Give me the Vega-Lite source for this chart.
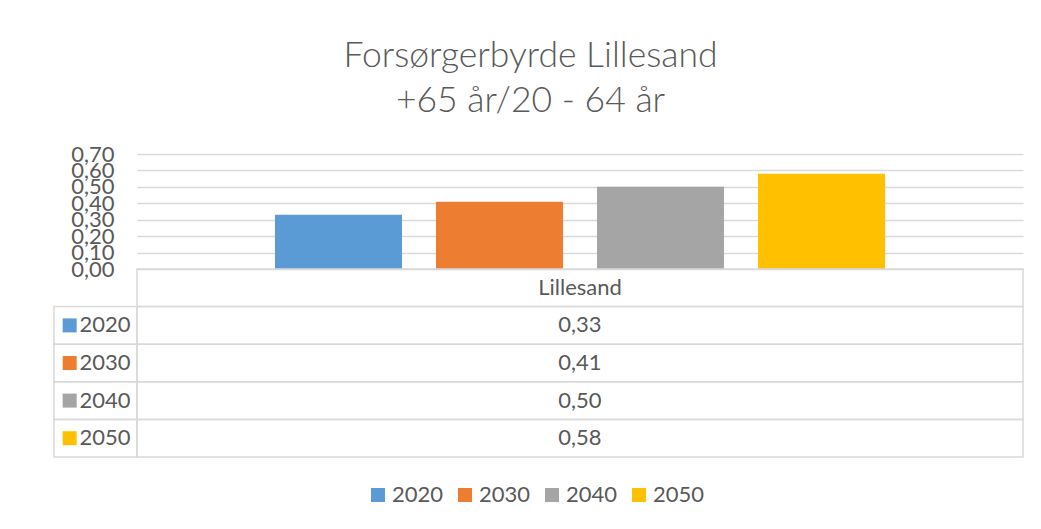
{
  "$schema": "https://vega.github.io/schema/vega-lite/v6.json",
  "padding": {"left": 53, "top": 38, "right": 5, "bottom": 5},
  "background": "white",
  "title": {
    "text": ["Forsørgerbyrde Lillesand", "+65 år/20 - 64 år"],
    "anchor": "middle",
    "font": "Lato",
    "fontSize": 35.5,
    "fontWeight": 300,
    "color": "#595959",
    "lineHeight": 45,
    "offset": 24,
    "dx": -8
  },
  "datasets": {
    "d": [
      {"region": "Lillesand", "year": "2020", "value": 0.33},
      {"region": "Lillesand", "year": "2030", "value": 0.41},
      {"region": "Lillesand", "year": "2040", "value": 0.50},
      {"region": "Lillesand", "year": "2050", "value": 0.58}
    ]
  },
  "data": {"name": "d"},
  "bounds": "flush",
  "spacing": 0,
  "vconcat": [
    {
      "width": 886,
      "height": 115,
      "view": {"stroke": null},
      "mark": {"type": "bar"},
      "encoding": {
        "x": {
          "field": "year",
          "type": "nominal",
          "scale": {"paddingInner": 0.211, "paddingOuter": 0.857},
          "axis": null
        },
        "y": {
          "field": "value",
          "type": "quantitative",
          "scale": {"domain": [0, 0.7], "nice": false},
          "axis": {
            "values": [0, 0.1, 0.2, 0.3, 0.4, 0.5, 0.6, 0.7],
            "format": ".2f",
            "title": null,
            "domain": false,
            "ticks": false,
            "grid": true,
            "gridColor": "#d9d9d9",
            "gridWidth": 1.5,
            "labelFontSize": 22,
            "labelFont": "Lato",
            "labelColor": "#595959",
            "labelPadding": 23,
            "labelOverlap": false
          }
        },
        "color": {
          "field": "year",
          "type": "nominal",
          "scale": {
            "domain": ["2020", "2030", "2040", "2050"],
            "range": ["#5b9bd5", "#ed7d31", "#a5a5a5", "#ffc000"]
          },
          "legend": {
            "orient": "none",
            "legendX": 230,
            "legendY": 330,
            "direction": "horizontal",
            "title": null,
            "symbolType": "square",
            "symbolSize": 196,
            "symbolStrokeWidth": 0,
            "labelFontSize": 22,
            "labelFont": "Lato",
            "labelColor": "#595959",
            "columnPadding": 10,
            "labelOffset": 3
          }
        }
      }
    },
    {
      "width": 886,
      "height": 188,
      "view": {"stroke": null},
      "layer": [
        {
          "mark": {"type": "rect", "fill": null, "stroke": "#d9d9d9", "strokeWidth": 1.5},
          "encoding": {
            "x": {"datum": -0.0937, "type": "quantitative", "scale": {"domain": [0, 1], "nice": false, "zero": false}, "axis": null},
            "x2": {"datum": 0},
            "y": {
              "field": "year",
              "type": "nominal",
              "scale": {"type": "band", "domain": ["Lillesand", "2020", "2030", "2040", "2050"], "paddingInner": 0, "paddingOuter": 0},
              "axis": {
                "values": ["2020", "2030", "2040", "2050"],
                "title": null,
                "domain": false,
                "ticks": false,
                "grid": false,
                "labelFontSize": 22,
                "labelFont": "Lato",
                "labelColor": "#595959",
                "labelPadding": 7
              }
            }
          }
        },
        {
          "mark": {"type": "rect", "fill": null, "stroke": "#d9d9d9", "strokeWidth": 1.5},
          "encoding": {
            "x": {"datum": 0, "type": "quantitative"},
            "x2": {"datum": 1},
            "y": {"field": "year", "type": "nominal"}
          }
        },
        {
          "transform": [{"filter": "datum.year == '2020'"}],
          "mark": {"type": "rect", "fill": null, "stroke": "#d9d9d9", "strokeWidth": 1.5},
          "encoding": {
            "x": {"datum": 0, "type": "quantitative"},
            "x2": {"datum": 1},
            "y": {"field": "region", "type": "nominal"}
          }
        },
        {
          "transform": [{"filter": "datum.year == '2020'"}],
          "mark": {"type": "text", "font": "Lato", "fontSize": 22, "fill": "#595959"},
          "encoding": {
            "x": {"datum": 0.5, "type": "quantitative"},
            "y": {"field": "region", "type": "nominal"},
            "text": {"field": "region"}
          }
        },
        {
          "mark": {"type": "text", "font": "Lato", "fontSize": 22, "fill": "#595959"},
          "encoding": {
            "x": {"datum": 0.5, "type": "quantitative"},
            "y": {"field": "year", "type": "nominal"},
            "text": {"field": "value", "type": "quantitative", "format": ".2f"}
          }
        },
        {
          "mark": {"type": "square", "size": 196, "filled": true, "opacity": 1},
          "encoding": {
            "x": {"datum": -0.076, "type": "quantitative"},
            "y": {"field": "year", "type": "nominal"},
            "color": {"field": "year", "type": "nominal"}
          }
        }
      ]
    }
  ],
  "config": {
    "locale": {"number": {"decimal": ",", "thousands": " ", "grouping": [3], "currency": ["", " kr"]}}
  }
}
